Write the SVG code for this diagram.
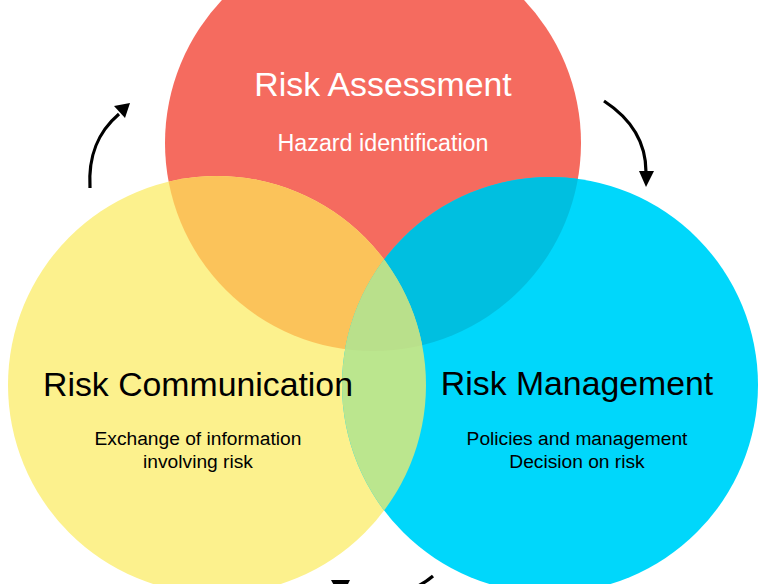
<svg xmlns="http://www.w3.org/2000/svg" width="768" height="584" viewBox="0 0 768 584">
<style>
.t{font-family:"Liberation Sans",Arial,Helvetica,sans-serif;text-anchor:middle}
.title{font-size:33.8px}
.sub{font-size:19.2px}
.w{fill:#ffffff}
.k{fill:#000000}
.arr{fill:none;stroke:#000;stroke-width:3.2;stroke-linecap:butt}
.head{fill:#000}
</style>
<defs>
<clipPath id="cR"><circle cx="373" cy="143" r="208"/></clipPath>
<clipPath id="cY"><circle cx="217" cy="385" r="209"/></clipPath>
</defs>
<rect width="768" height="584" fill="#ffffff"/>
<g id="risk-assessment">
<circle cx="373" cy="143" r="208" fill="#F56B5F"/>
</g>
<g id="risk-communication">
<circle cx="217" cy="385" r="209" fill="#FCF18D"/>
</g>
<g id="risk-management">
<circle cx="550" cy="385" r="208" fill="#00D7FB"/>
</g>
<g id="overlaps">
<circle cx="217" cy="385" r="209" fill="#FBC35A" clip-path="url(#cR)"/>
<circle cx="550" cy="385" r="208" fill="#00BFE0" clip-path="url(#cR)"/>
<circle cx="550" cy="385" r="208" fill="#BBE68E" clip-path="url(#cY)"/>
<g clip-path="url(#cR)"><circle cx="550" cy="385" r="208" fill="#B9E08B" clip-path="url(#cY)"/></g>
</g>
<g id="labels">
<text class="t title w" x="383" y="96">Risk Assessment</text>
<text class="t w" style="font-size:23.3px" x="383" y="151">Hazard identification</text>
<text class="t title k" x="198" y="396">Risk Communication</text>
<text class="t sub k" x="198" y="445">Exchange of information</text>
<text class="t sub k" x="198" y="468">involving risk</text>
<text class="t title k" x="577" y="395">Risk Management</text>
<text class="t sub k" x="577" y="445">Policies and management</text>
<text class="t sub k" x="577" y="468">Decision on risk</text>
</g>
<g id="connectors">
<path class="arr" d="M 90 188 C 88 155 98 132 119 114"/>
<polygon class="head" points="130,103 114,106 125,118"/>
<path class="arr" d="M 604 101 C 630 118 646 142 646 172"/>
<polygon class="head" points="646,187 639,171 654,171"/>
<path class="arr" d="M 433 576 Q 405 600 350 598"/>
<polygon class="head" points="331,580 350,580 341,598"/>
</g>
</svg>
